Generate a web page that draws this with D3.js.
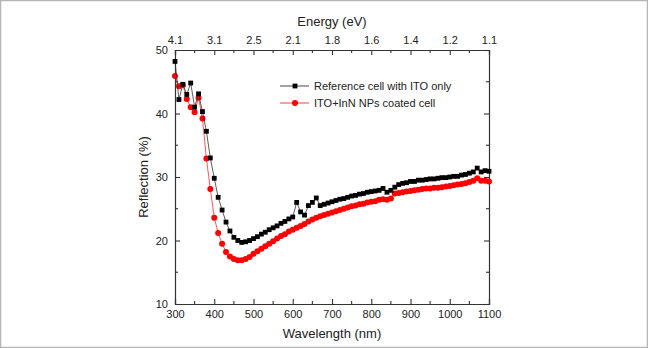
<!DOCTYPE html>
<html>
<head>
<meta charset="utf-8">
<script src="https://cdn.jsdelivr.net/npm/d3@7"></script>
<style>
  body { margin: 0; background: #fff; }
  svg { font-family: "Liberation Sans", Arial, sans-serif; }
</style>
</head>
<body>
<div id="chart"></div>
<script>
// wavelength grid (nm) for both series
var wavelength = [300,310,320,330,340,350,360,370,380,390,400,410,420,430,440,450,460,470,480,490,
  500,510,520,530,540,550,560,570,580,590,600,610,620,630,640,650,660,670,680,690,
  700,710,720,730,740,750,760,770,780,790,800,810,820,830,840,850,860,870,880,890,
  900,910,920,930,940,950,960,970,980,990,1000,1010,1020,1030,1040,1050,1060,1070,1080,1090,1100];

var refCell = [48.2,42.2,44.6,43.0,44.8,41.0,43.1,40.3,37.2,33.0,29.8,26.8,24.8,22.9,21.5,20.5,20.0,19.7,19.8,20.0,
  20.3,20.6,21.0,21.3,21.7,22.0,22.3,22.7,23.0,23.4,23.7,26.0,24.5,24.0,25.5,26.0,26.7,25.5,25.7,25.9,
  26.1,26.3,26.5,26.6,26.8,27.0,27.1,27.3,27.4,27.6,27.7,27.8,27.9,28.2,27.6,27.9,28.4,28.8,29.0,29.1,
  29.3,29.3,29.5,29.5,29.6,29.7,29.7,29.8,29.9,29.9,30.0,30.1,30.1,30.3,30.4,30.6,30.8,31.4,30.8,31.0,30.9];

var innCell = [45.9,44.3,44.5,42.3,41.0,40.2,42.5,39.2,32.9,28.1,23.6,21.2,19.5,18.2,17.5,17.1,16.9,16.9,17.1,17.4,
  17.9,18.3,18.7,19.1,19.5,19.9,20.3,20.7,21.0,21.4,21.7,22.0,22.3,22.6,23.0,23.3,23.6,23.8,24.0,24.2,
  24.4,24.6,24.8,25.0,25.2,25.4,25.5,25.7,25.8,26.0,26.1,26.2,26.4,26.5,26.4,26.6,27.4,27.5,27.6,27.7,
  27.8,27.9,28.0,28.1,28.2,28.2,28.3,28.3,28.4,28.5,28.6,28.7,28.8,28.9,29.0,29.2,29.4,29.8,29.4,29.4,29.3];

var xTicks = [300,400,500,600,700,800,900,1000,1100];
var energyLabels = ["4.1","3.1","2.5","2.1","1.8","1.6","1.4","1.2","1.1"];
var yTicks = [10,20,30,40,50];
var legendNames = ["Reference cell with ITO only", "ITO+InN NPs coated cell"];

(function() {
  var W = 648, H = 348;
  var pLeft = 175, pRight = 489, pTop = 50, pBottom = 304;

  var svg = d3.select("#chart").append("svg")
    .attr("width", W).attr("height", H);

  // figure border
  svg.append("rect")
    .attr("x", 0.5).attr("y", 0.5)
    .attr("width", W - 1).attr("height", H - 1)
    .attr("fill", "none").attr("stroke", "#b5b5b5").attr("stroke-width", 1.5);

  var x = d3.scaleLinear().domain([300, 1100]).range([pLeft, pRight]);
  var y = d3.scaleLinear().domain([10, 50]).range([pBottom, pTop]);

  var axisColor = "#333";

  // bottom axis
  var gB = svg.append("g").attr("transform", "translate(0," + pBottom + ")")
    .call(d3.axisBottom(x).tickValues(xTicks).tickSize(-5).tickPadding(6).tickFormat(d3.format("d")));
  gB.append("g").selectAll("line").data(d3.range(350, 1100, 100)).enter().append("line")
    .attr("x1", x).attr("x2", x).attr("y1", 0).attr("y2", -3);

  // top axis (energy)
  var gT = svg.append("g").attr("transform", "translate(0," + pTop + ")")
    .call(d3.axisTop(x).tickValues(xTicks).tickSize(-5).tickPadding(6)
      .tickFormat(function(d, i) { return energyLabels[i]; }));
  gT.append("g").selectAll("line").data(d3.range(350, 1100, 100)).enter().append("line")
    .attr("x1", x).attr("x2", x).attr("y1", 0).attr("y2", 3);

  // left axis
  var gL = svg.append("g").attr("transform", "translate(" + pLeft + ",0)")
    .call(d3.axisLeft(y).tickValues(yTicks).tickSize(-5).tickPadding(7));
  gL.append("g").selectAll("line").data([15,25,35,45]).enter().append("line")
    .attr("x1", 0).attr("x2", 3).attr("y1", y).attr("y2", y);

  // right axis
  var gR = svg.append("g").attr("transform", "translate(" + pRight + ",0)")
    .call(d3.axisRight(y).tickValues(yTicks).tickSize(-5).tickFormat(""));
  gR.append("g").selectAll("line").data([15,25,35,45]).enter().append("line")
    .attr("x1", 0).attr("x2", -3).attr("y1", y).attr("y2", y);

  [gB, gT, gL, gR].forEach(function(g) {
    g.select(".domain").attr("stroke", axisColor).attr("stroke-width", 1.2);
    g.selectAll("line").attr("stroke", axisColor).attr("stroke-width", 1.1);
    g.selectAll("text").attr("font-size", 11).attr("fill", "#222")
      .attr("font-family", "Liberation Sans, Arial, sans-serif");
  });

  // axis titles
  svg.append("text").attr("x", (pLeft + pRight) / 2).attr("y", 26)
    .attr("text-anchor", "middle").attr("font-size", 13).attr("fill", "#222").text("Energy (eV)");
  svg.append("text").attr("x", (pLeft + pRight) / 2).attr("y", 338)
    .attr("text-anchor", "middle").attr("font-size", 13).attr("fill", "#222").text("Wavelength (nm)");
  svg.append("text")
    .attr("transform", "translate(148," + ((pTop + pBottom) / 2) + ") rotate(-90)")
    .attr("text-anchor", "middle").attr("font-size", 13).attr("fill", "#222").text("Reflection (%)");

  var line = d3.line()
    .x(function(d) { return x(d[0]); })
    .y(function(d) { return y(d[1]); });

  var refData = wavelength.map(function(w, i) { return [w, refCell[i]]; });
  var innData = wavelength.map(function(w, i) { return [w, innCell[i]]; });

  // red series
  svg.append("path").datum(innData).attr("d", line)
    .attr("fill", "none").attr("stroke", "#ff2a2a").attr("stroke-width", 0.8);
  svg.append("g").selectAll("circle").data(innData).enter().append("circle")
    .attr("cx", function(d) { return x(d[0]); })
    .attr("cy", function(d) { return y(d[1]); })
    .attr("r", 3).attr("fill", "#f00");

  // black series
  svg.append("path").datum(refData).attr("d", line)
    .attr("fill", "none").attr("stroke", "#333").attr("stroke-width", 0.8);
  svg.append("g").selectAll("rect").data(refData).enter().append("rect")
    .attr("x", function(d) { return x(d[0]) - 2.4; })
    .attr("y", function(d) { return y(d[1]) - 2.4; })
    .attr("width", 4.8).attr("height", 4.8).attr("fill", "#000");

  // legend
  var legend = svg.append("g").attr("class", "legend");
  var legY = [86, 103];
  legend.selectAll("line").data(legendNames).enter().append("line")
    .attr("x1", 280).attr("x2", 309)
    .attr("y1", function(d, i) { return legY[i]; })
    .attr("y2", function(d, i) { return legY[i]; })
    .attr("stroke", function(d, i) { return i === 0 ? "#333" : "#ff2a2a"; })
    .attr("stroke-width", 0.9);
  legend.append("rect").attr("x", 295 - 2.4).attr("y", legY[0] - 2.4)
    .attr("width", 4.8).attr("height", 4.8).attr("fill", "#000");
  legend.append("circle").attr("cx", 295).attr("cy", legY[1]).attr("r", 3).attr("fill", "#f00");
  legend.selectAll("text").data(legendNames).enter().append("text")
    .attr("x", 314)
    .attr("y", function(d, i) { return legY[i] + 4; })
    .attr("font-size", 11).attr("fill", "#222")
    .text(function(d) { return d; });
})();
</script>
</body>
</html>
